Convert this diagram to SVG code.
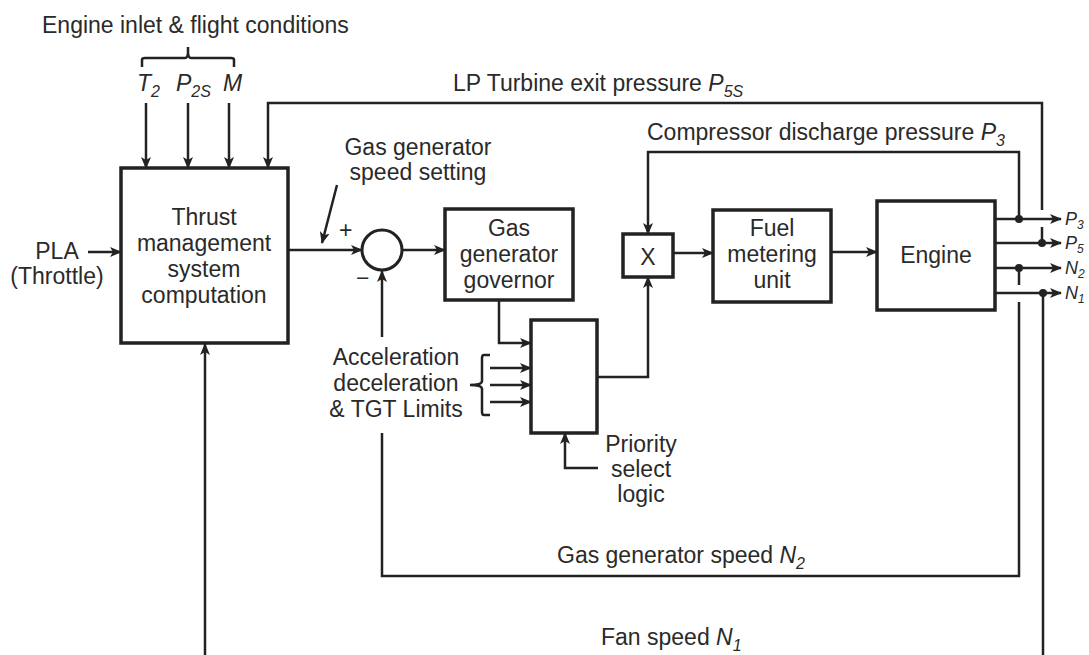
<svg xmlns="http://www.w3.org/2000/svg" width="1089" height="655" viewBox="0 0 1089 655">
<defs>
<marker id="ah" markerUnits="userSpaceOnUse" markerWidth="12" markerHeight="10" refX="11" refY="5" orient="auto">
<path d="M0,0 L12,5 L0,10 L3,5 Z" fill="#222"/>
</marker>
<style>
.box{fill:#fff;stroke:#222;stroke-width:3.5}
.ln{fill:none;stroke:#222;stroke-width:2.5}
.ar{fill:none;stroke:#222;stroke-width:2.5;marker-end:url(#ah)}
.t{font-family:"Liberation Sans",Arial,sans-serif;font-size:23px;fill:#2a2a2a}
.c{text-anchor:middle}
.i{font-style:italic}
.s{font-size:16px}
.o{font-size:18px}
.os{font-size:12px}
.dot{fill:#222}
</style>
</defs>
<rect width="1089" height="655" fill="#fff"/>

<g id="connectors">
<path class="ln" d="M142,67 V60 Q142,58 145,58 H185 Q188,58 188,52 V47 M188,52 Q188,58 191,58 H231 Q234,58 234,60 V67" stroke-width="2"/>
<line class="ar" x1="146" y1="103" x2="146" y2="168"/>
<line class="ar" x1="188" y1="103" x2="188" y2="168"/>
<line class="ar" x1="229" y1="103" x2="229" y2="168"/>
<polyline class="ar" points="1042,210 1042,103 268,103 268,168"/>
<line class="ln" x1="1042" y1="227" x2="1042" y2="243"/>
<line class="ar" x1="88" y1="252" x2="121" y2="252"/>
<line class="ar" x1="288" y1="250" x2="362" y2="250"/>
<line class="ar" x1="337" y1="185" x2="322" y2="243"/>
<line class="ar" x1="402" y1="250" x2="445" y2="250"/>
<polyline class="ar" points="499,300 499,343 531,343"/>
<line class="ar" x1="490" y1="368" x2="531" y2="368"/>
<line class="ar" x1="490" y1="385" x2="531" y2="385"/>
<line class="ar" x1="490" y1="402" x2="531" y2="402"/>
<path class="ln" d="M490,355 H484 Q482,355 482,358 V381 Q482,385 470,385 Q482,385 482,389 V412 Q482,415 484,415 H490" stroke-width="2"/>
<polyline class="ar" points="598,468 565,468 565,433"/>
<polyline class="ar" points="597,377 648,377 648,277"/>
<polyline class="ar" points="1019,219 1019,152 648,152 648,234"/>
<line class="ar" x1="673" y1="253" x2="713" y2="253"/>
<line class="ar" x1="831" y1="252" x2="877" y2="252"/>
<line class="ar" x1="995" y1="219" x2="1061" y2="219"/>
<line class="ar" x1="995" y1="243" x2="1061" y2="243"/>
<line class="ar" x1="995" y1="268" x2="1061" y2="268"/>
<line class="ar" x1="995" y1="293" x2="1061" y2="293"/>
<circle class="dot" cx="1019" cy="219" r="4"/>
<circle class="dot" cx="1042" cy="243" r="4"/>
<circle class="dot" cx="1019" cy="268" r="4"/>
<circle class="dot" cx="1043" cy="293" r="4"/>
<line class="ln" x1="1019" y1="268" x2="1019" y2="285"/>
<polyline class="ln" points="1019,302 1019,576 382,576 382,433"/>
<line class="ar" x1="382" y1="337" x2="382" y2="271"/>
<line class="ln" x1="1043" y1="293" x2="1043" y2="655"/>
<line class="ar" x1="205" y1="655" x2="205" y2="344"/>
</g>

<g id="thrust">
<rect class="box" x="121" y="168" width="167" height="175"/>
<text class="t c" x="204" y="225">Thrust</text>
<text class="t c" x="204" y="251">management</text>
<text class="t c" x="204" y="277">system</text>
<text class="t c" x="204" y="303">computation</text>
</g>

<g id="sum">
<circle cx="382" cy="250" r="20" fill="#fff" stroke="#222" stroke-width="3"/>
<text class="t" x="339" y="238" font-size="20">+</text>
<text class="t" x="356" y="286">−</text>
</g>

<g id="governor">
<rect class="box" x="445" y="209" width="128" height="91"/>
<text class="t c" x="509" y="236">Gas</text>
<text class="t c" x="509" y="262">generator</text>
<text class="t c" x="509" y="288">governor</text>
</g>

<g id="priority">
<rect class="box" x="531" y="320" width="66" height="113"/>
</g>

<g id="multiplier">
<rect class="box" x="623" y="234" width="50" height="43"/>
<text class="t c" x="648" y="265">X</text>
</g>

<g id="fuel">
<rect class="box" x="713" y="210" width="118" height="92"/>
<text class="t c" x="772" y="236">Fuel</text>
<text class="t c" x="772" y="262">metering</text>
<text class="t c" x="772" y="288">unit</text>
</g>

<g id="engine">
<rect class="box" x="877" y="201" width="118" height="109"/>
<text class="t c" x="936" y="263">Engine</text>
</g>

<g id="labels">
<text class="t" x="42" y="33">Engine inlet &amp; flight conditions</text>
<text class="t i" x="137" y="91">T<tspan class="s" dy="6">2</tspan></text>
<text class="t i" x="176" y="91">P<tspan class="s" dy="6">2S</tspan></text>
<text class="t i" x="223" y="91">M</text>
<text class="t" x="453" y="91">LP Turbine exit pressure <tspan class="i">P</tspan><tspan class="i s" dy="6">5S</tspan></text>
<text class="t" x="647" y="140">Compressor discharge pressure <tspan class="i">P</tspan><tspan class="i s" dy="6">3</tspan></text>
<text class="t c" x="418" y="155">Gas generator</text>
<text class="t c" x="418" y="180">speed setting</text>
<text class="t c" x="57" y="259">PLA</text>
<text class="t c" x="57" y="284">(Throttle)</text>
<text class="t c" x="396" y="365">Acceleration</text>
<text class="t c" x="396" y="391">deceleration</text>
<text class="t c" x="396" y="417">&amp; TGT Limits</text>
<text class="t c" x="641" y="452">Priority</text>
<text class="t c" x="641" y="477">select</text>
<text class="t c" x="641" y="502">logic</text>
<text class="t" x="557" y="563">Gas generator speed <tspan class="i">N</tspan><tspan class="i s" dy="6">2</tspan></text>
<text class="t" x="601" y="645">Fan speed <tspan class="i">N</tspan><tspan class="i s" dy="6">1</tspan></text>
<text class="t i o" x="1065" y="225">P<tspan class="os" dy="4">3</tspan></text>
<text class="t i o" x="1065" y="249">P<tspan class="os" dy="4">5</tspan></text>
<text class="t i o" x="1065" y="274">N<tspan class="os" dy="4">2</tspan></text>
<text class="t i o" x="1065" y="299">N<tspan class="os" dy="4">1</tspan></text>
</g>
</svg>
